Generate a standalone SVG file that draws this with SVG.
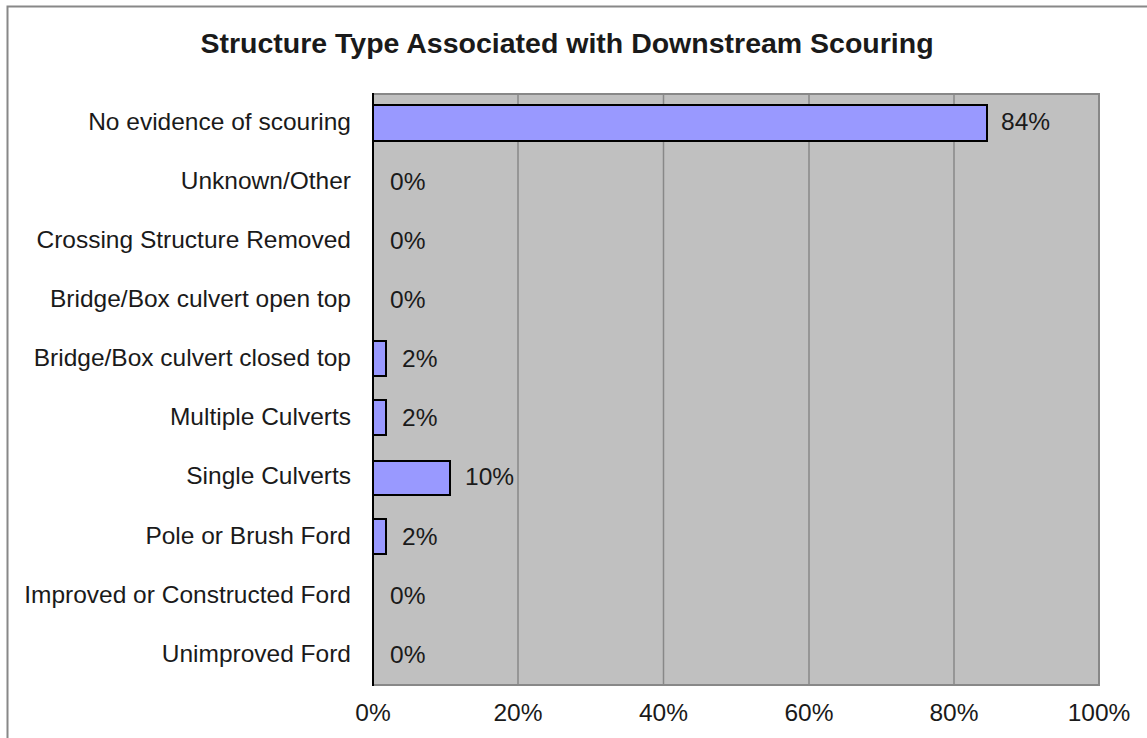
<svg xmlns="http://www.w3.org/2000/svg" width="1147" height="738" viewBox="0 0 1147 738">
<style>
text{font-family:"Liberation Sans",Arial,sans-serif;fill:#1a1a1a}
.t{font-size:28.5px;font-weight:bold;text-anchor:middle}
.c{font-size:24.5px;text-anchor:end}
.v{font-size:24.5px}
.x{font-size:24.5px;text-anchor:middle}
.bar{fill:#9999ff;stroke:#000;stroke-width:2}
.grid{stroke:#888;stroke-width:1.5}
</style>
<rect width="1147" height="738" fill="#fff"/>
<path d="M7.5 738V6.5H1147" fill="none" stroke="#888" stroke-width="2"/>
<text class="t" x="567" y="53">Structure Type Associated with Downstream Scouring</text>
<g id="plot">
<rect x="373" y="94" width="726" height="591" fill="#c0c0c0" stroke="#888" stroke-width="2"/>
<line class="grid" x1="518" y1="94" x2="518" y2="685"/>
<line class="grid" x1="663.5" y1="94" x2="663.5" y2="685"/>
<line class="grid" x1="809" y1="94" x2="809" y2="685"/>
<line class="grid" x1="954" y1="94" x2="954" y2="685"/>
<line x1="373" y1="93" x2="373" y2="686" stroke="#000" stroke-width="2"/>
</g>
<g id="categories">
<text class="c" x="351" y="130">No evidence of scouring</text>
<text class="c" x="351" y="189">Unknown/Other</text>
<text class="c" x="351" y="248">Crossing Structure Removed</text>
<text class="c" x="351" y="307">Bridge/Box culvert open top</text>
<text class="c" x="351" y="366">Bridge/Box culvert closed top</text>
<text class="c" x="351" y="425">Multiple Culverts</text>
<text class="c" x="351" y="484">Single Culverts</text>
<text class="c" x="351" y="544">Pole or Brush Ford</text>
<text class="c" x="351" y="603">Improved or Constructed Ford</text>
<text class="c" x="351" y="662">Unimproved Ford</text>
</g>
<g id="bars">
<rect class="bar" x="373" y="105" width="614" height="36"/>
<rect class="bar" x="373" y="341" width="13" height="35"/>
<rect class="bar" x="373" y="400" width="13" height="35"/>
<rect class="bar" x="373" y="461" width="77" height="34"/>
<rect class="bar" x="373" y="519" width="13" height="35"/>
</g>
<g id="values">
<text class="v" x="1001" y="130">84%</text>
<text class="v" x="390" y="190">0%</text>
<text class="v" x="390" y="249">0%</text>
<text class="v" x="390" y="308">0%</text>
<text class="v" x="402" y="367">2%</text>
<text class="v" x="402" y="426">2%</text>
<text class="v" x="465" y="485">10%</text>
<text class="v" x="402" y="545">2%</text>
<text class="v" x="390" y="604">0%</text>
<text class="v" x="390" y="663">0%</text>
</g>
<g id="xaxis">
<text class="x" x="373" y="721">0%</text>
<text class="x" x="518" y="721">20%</text>
<text class="x" x="663.5" y="721">40%</text>
<text class="x" x="809" y="721">60%</text>
<text class="x" x="954" y="721">80%</text>
<text class="x" x="1099" y="721">100%</text>
</g>
</svg>
